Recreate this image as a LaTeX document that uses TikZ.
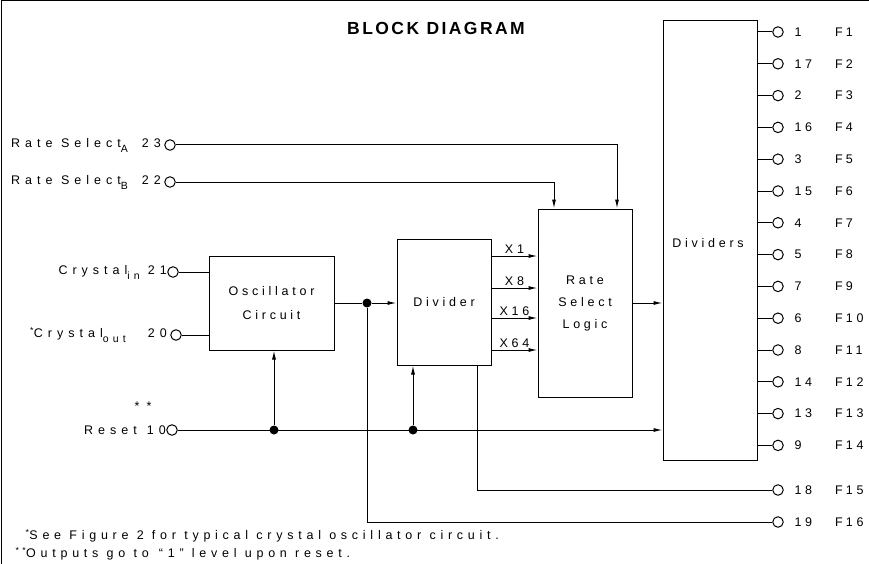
\documentclass[tikz,border=0pt]{standalone}
\usepackage{fontspec}
\setmainfont{Liberation Sans}[LetterSpace=30]
\newfontfamily\titlefont{Liberation Sans}[LetterSpace=14]
\newfontfamily\notefont{Liberation Sans}[LetterSpace=38]
\newfontfamily\pinfont{Liberation Sans}[LetterSpace=40]
\newcommand{\lowsub}[1]{\raisebox{-0.4em}{\fontsize{10.5}{12}\selectfont #1}}
\usetikzlibrary{arrows.meta}

\begin{document}
\begin{tikzpicture}[x=1pt,y=-1pt,font=\fontsize{12.5}{22}\selectfont,
    blk/.style={draw,line width=1pt,align=center,inner sep=0pt},
    pin/.style={draw,circle,line width=1pt,inner sep=0pt,minimum size=10.5pt},
    inlabel/.style={font=\pinfont\fontsize{12.5}{14}\selectfont},
    dot/.style={fill,circle,inner sep=0pt,minimum size=9pt},
    wire/.style={line width=1pt},
    sig/.style={line width=1pt,-{Latex[length=9pt,width=4pt]}}]
    \useasboundingbox (0,0) rectangle (869,564);
    \draw [line width=1pt] (1,564) -- (1,1) -- (869,1);
    \node [font=\titlefont\bfseries\fontsize{17.5}{20}\selectfont] (title) at (436,28.5) {BLOCK DIAGRAM};
    % blocks
    \node [blk,minimum width=125pt,minimum height=94pt,font=\fontsize{12.5}{24}\selectfont] (osc) at (271.5,303) {Oscillator\\Circuit};
    \node [blk,minimum width=94pt,minimum height=126pt] (divider) at (444,302) {Divider};
    \node [blk,minimum width=94pt,minimum height=188pt] (rsl) at (585,303) {Rate\\Select\\Logic};
    \node [blk,minimum width=94pt,minimum height=439pt] (dividers) at (710,240.5) {};
    \node (dvtext) at (708,243) {Dividers};
    % input pins
    \node [pin,label={[inlabel]left:{Rate Select\lowsub{A}\hspace{14pt}23}}] (rsa) at (170,145) {};
    \node [pin,label={[inlabel]left:{Rate Select\lowsub{B}\hspace{14pt}22}}] (rsb) at (170,182) {};
    \node [pin,label={[inlabel,xshift=3pt]left:{Crystal\lowsub{in}\hspace{8pt}21}}] (xin) at (173,272) {};
    \node [pin,label={[inlabel]left:{\textsuperscript{*}Crystal\lowsub{out}\hspace{22pt}20}}] (xout) at (176,335) {};
    \node [pin,label={[inlabel,xshift=3pt]left:{Reset\hspace{10pt}10}}] (rst) at (172,430) {};
    \node (stars) at (143,406) {* *};
    % output pins
    \foreach \n [count=\i] in {1,17,2,16,3,15,4,5,7,6,8,14,13,9} {
        \node [pin] (f\i) at (778,{32+31.8*(\i-1)}) {};
        \draw [wire] (dividers.east |- f\i) -- (f\i);
        \node [anchor=west] (fn\i) at (791,{32+31.8*(\i-1)}) {\n};
        \node [anchor=west,inner xsep=0pt] (fl\i) at (835,{32+31.8*(\i-1)}) {F\hspace{3pt}\i};
    }
    \node [pin] (f15) at (778,490) {};
    \node [anchor=west] (fn15) at (791,490) {18};
    \node [anchor=west,inner xsep=0pt] (fl15) at (835,490) {F\hspace{3pt}15};
    \node [pin] (f16) at (778,522) {};
    \node [anchor=west] (fn16) at (791,522) {19};
    \node [anchor=west,inner xsep=0pt] (fl16) at (835,522) {F\hspace{3pt}16};
    % junctions
    \node [dot] (o1) at (367,303) {};
    \node [dot] (r1) at (274,430) {};
    \node [dot] (r2) at (413,430) {};
    % connections
    \draw [sig] (rsa) -| ([xshift=32pt]rsl.north);
    \draw [sig] (rsb) -| ([xshift=-31pt]rsl.north);
    \draw [wire] (xin) -- (osc.west |- xin);
    \draw [wire] (xout) -- (osc.west |- xout);
    \draw [wire] (osc.east |- o1) -- (o1);
    \draw [sig] (o1) -- (divider.west |- o1);
    \foreach \y/\t in {256/X1,288/X8,318/X16,350/X64}
        \draw [sig] (divider.east |- 0,\y) -- node[above=-1pt] {\t} (rsl.west |- 0,\y);
    \draw [sig] (rsl.east) -- (dividers.west |- rsl.east);
    \draw [sig] (rst) -- (dividers.west |- rst);
    \draw [sig] (r1) -- (r1 |- osc.south);
    \draw [sig] (r2) -- (r2 |- divider.south);
    \draw [wire] (o1) |- (f16);
    \draw [wire] (divider.south -| 477,0) |- (f15);
    % notes
    \node [anchor=west,font=\notefont\fontsize{12.5}{14}\selectfont] (note1) at (22,536) {\textsuperscript{*}See Figure 2 for typical crystal oscillator circuit.};
    \node [anchor=west,font=\notefont\fontsize{12.5}{14}\selectfont] (note2) at (12,554) {\textsuperscript{**}Outputs go to \hspace{2pt}“1” level upon reset.};
\end{tikzpicture}
\end{document}
